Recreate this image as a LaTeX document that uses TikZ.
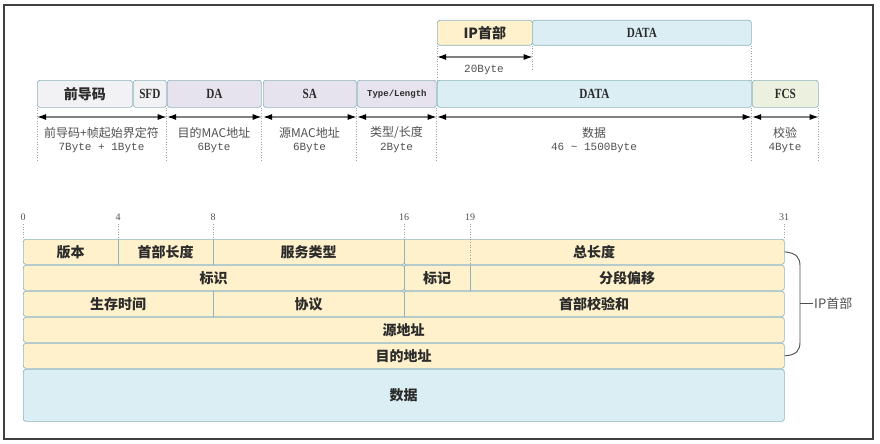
\documentclass[tikz,border=0pt]{standalone}
\usepackage{fontspec}
\setmainfont{Liberation Serif}
\newfontfamily\cjk{Noto Sans CJK SC}
\newfontfamily\mono{Liberation Mono}
\newfontfamily\narrow[FakeStretch=0.8]{Liberation Serif}
\usetikzlibrary{arrows.meta, positioning}
\definecolor{edge}{HTML}{8FB3BE}
\definecolor{greyc}{HTML}{F2F2F4}
\definecolor{lavc}{HTML}{E6E3EE}
\definecolor{bluec}{HTML}{DAEEF3}
\definecolor{greenc}{HTML}{EBF1DE}
\definecolor{yelc}{HTML}{FFF1CC}
\definecolor{ink}{HTML}{2B2B2B}
\definecolor{labelcolor}{HTML}{505050}

\begin{document}
\begin{tikzpicture}[x=1pt, y=-1pt,
    fld/.style={draw=edge, line width=0.7pt, rounded corners=2.5pt, inner sep=0pt, anchor=north west},
    hd/.style={font=\cjk\bfseries\fontsize{14}{16}\selectfont, text=ink},
    enlab/.style={font=\narrow\bfseries\fontsize{14}{16}\selectfont, text=ink},
    lab/.style={font=\cjk\fontsize{12}{14}\selectfont, text=labelcolor},
    numlab/.style={font=\mono\fontsize{11}{13}\selectfont, text=labelcolor},
    bitlab/.style={font=\fontsize{10}{12}\selectfont, text=labelcolor},
    guideline/.style={draw=gray!75, dotted, line width=0.6pt},
    dimline/.style={draw=gray, line width=1.3pt,
        {Latex[length=9pt, width=6pt, color=black]}-{Latex[length=9pt, width=6pt, color=black]}},
    divline/.style={draw=edge, line width=0.7pt},
    brace/.style={draw=black!70, line width=0.9pt},
]
\useasboundingbox (0,0) rectangle (880,444);
\draw[line width=1.6pt, black!75] (4,5) rectangle (873,439);

% ethernet frame
\node[fld, fill=greyc, hd, minimum width=95pt, minimum height=27pt] (pre) at (37,80) {前导码};
\node[fld, fill=greyc, enlab, minimum width=33pt, minimum height=27pt] (sfd) at (133,80) {SFD};
\node[fld, fill=lavc, enlab, minimum width=94pt, minimum height=27pt] (da) at (167,80) {DA};
\node[fld, fill=lavc, enlab, minimum width=93pt, minimum height=27pt] (sa) at (263,80) {SA};
\node[fld, fill=lavc, font=\mono\bfseries\fontsize{9}{11}\selectfont, text=ink,
      minimum width=79pt, minimum height=27pt] (tl) at (357,80) {Type/Length};
\node[fld, fill=bluec, enlab, minimum width=314pt, minimum height=27pt] (data) at (437,80) {DATA};
\node[fld, fill=greenc, enlab, minimum width=66pt, minimum height=27pt] (fcs) at (752,80) {FCS};

% ip packet inside DATA
\node[fld, fill=yelc, hd, minimum width=95pt, minimum height=25pt] (iph) at (437,20) {IP首部};
\node[fld, fill=bluec, enlab, minimum width=219pt, minimum height=25pt] (ipd) at (532,20) {DATA};

% guides and lengths
\foreach \a in {pre.south west, sfd.south east, da.south east, sa.south east,
                tl.south east, data.south east, fcs.south east}{
    \draw[guideline] (\a) -- ++(0,53);
}
\draw[guideline] (iph.south west) -- (data.north west);
\draw[guideline] (ipd.south east) -- (data.north east);
\draw[guideline] (iph.south east) -- ++(0,26);

\coordinate (arr) at (0,117);
\coordinate (iparr) at (0,57);
\foreach \a/\b in {pre/sfd, da/da, sa/sa, tl/tl, data/data, fcs/fcs}{
    \draw[dimline] (\a.west |- arr) -- (\b.east |- arr);
}
\draw[dimline] (iph.west |- iparr) -- (iph.east |- iparr);
\node[numlab] (ipn) at (484,70) {20Byte};

\node[lab] (prea) at (101.5,133) {前导码+帧起始界定符};
\node[numlab] (preb) at (101.5,148) {7Byte + 1Byte};
\node[lab] (daa) at (214,133) {目的MAC地址};
\node[numlab] (dab) at (214,148) {6Byte};
\node[lab] (saa) at (309.5,133) {源MAC地址};
\node[numlab] (sab) at (309.5,148) {6Byte};
\node[lab] (tla) at (396.5,133) {类型/长度};
\node[numlab] (tlb) at (396.5,148) {2Byte};
\node[lab] (dataa) at (594,133) {数据};
\node[numlab] (datab) at (594,148) {46 \textasciitilde{} 1500Byte};
\node[lab] (fcsa) at (785,133) {校验};
\node[numlab] (fcsb) at (785,148) {4Byte};

% ip header
\foreach \b/\x in {0/23, 4/118, 8/213, 16/404, 19/470, 31/784}{
    \node[bitlab] (b\b) at (\x,217) {\b};
}
\foreach \r/\y/\h/\col in {1/239/25/yelc, 2/265/25/yelc, 3/291/25/yelc,
                           4/317/25/yelc, 5/343/25/yelc, 6/369/52/bluec}{
    \node[fld, fill=\col, minimum width=761pt, minimum height=\h pt] (r\r) at (23,\y) {};
}
\foreach \b/\y in {0/239, 4/239, 8/239, 16/239, 19/265, 31/239}{
    \draw[guideline] (b\b.south) -- (b\b.south |- 0,\y);
}
\draw[divline] (b4 |- r1.north) -- (b4 |- r1.south);
\draw[divline] (b8 |- r1.north) -- (b8 |- r1.south);
\draw[divline] (b8 |- r3.north) -- (b8 |- r3.south);
\draw[divline] (b16 |- r1.north) -- (b16 |- r3.south);
\draw[divline] (b19 |- r2.north) -- (b19 |- r2.south);
\foreach \r in {2,3}{
    \draw[divline, fill=white] (b16 |- r\r.north) circle (1.6pt);
}

\foreach \r/\x/\txt [count=\i] in {1/70.5/版本, 1/165.5/首部长度, 1/308.5/服务类型, 1/594/总长度,
                        2/213.5/标识, 2/437/标记, 2/627/分段偏移,
                        3/118/生存时间, 3/308.5/协议, 3/594/首部校验和,
                        4/403.5/源地址, 5/403.5/目的地址, 6/403.5/数据}{
    \node[hd] (f\i) at (\x,0 |- r\r) {\txt};
}

% brace for the header rows
\draw[brace] (r1.east) .. controls (797,253) and (800,258) .. (800,266)
    -- (800,342) .. controls (800,350) and (797,355) .. (r5.east);
\coordinate (bk) at (800,303.5);
\node[lab, anchor=west, inner sep=1pt, font=\cjk\fontsize{13}{15}\selectfont] (iplab) at (813,303.5) {IP首部};
\draw[brace] (bk) -- (iplab.west);
\end{tikzpicture}
\end{document}
